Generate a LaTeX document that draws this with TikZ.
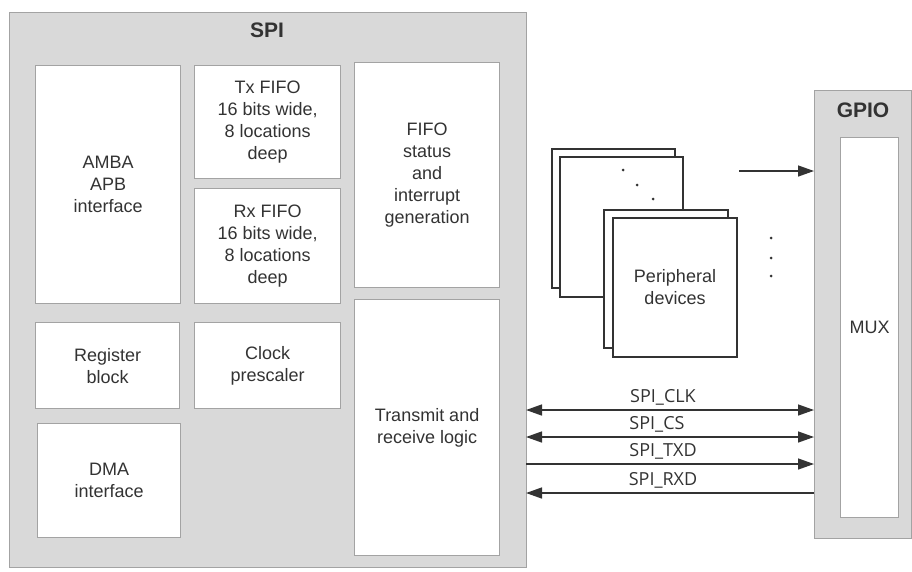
\documentclass[tikz,border=0pt]{standalone}
\usepackage{fontspec}
\setmainfont{Liberation Sans}
\newfontfamily\sigfont{Open Sans}
\usetikzlibrary{arrows.meta}
\definecolor{panelgray}{HTML}{D9D9D9}
\definecolor{edgegray}{HTML}{A3A3A3}
\definecolor{ink}{HTML}{333333}
\begin{document}
\begin{tikzpicture}[x=1pt,y=-1pt,
  panel/.style={draw=edgegray, fill=panelgray, line width=1.2pt, anchor=north west, inner sep=0pt},
  block/.style={draw=edgegray, fill=white, line width=1.2pt, anchor=north west, inner sep=0pt,
    align=center, text=ink, font=\fontsize{18}{22}\selectfont},
  ptitle/.style={text=ink, font=\fontsize{21}{25}\selectfont\bfseries},
  card/.style={draw=ink, fill=white, line width=1.2pt},
  sig/.style={draw=ink, line width=1.4pt},
  tipR/.style={-{Triangle[length=16pt,width=11pt]}},
  tipL/.style={{Triangle[length=16pt,width=11pt]}-},
  tipLR/.style={{Triangle[length=16pt,width=11pt]}-{Triangle[length=16pt,width=11pt]}},
  siglabel/.style={text=ink, font=\sigfont\fontsize{18}{22}\selectfont},
  dot/.style={fill=ink, circle, inner sep=0pt, minimum size=3pt}]
\useasboundingbox (0,0) rectangle (912,571);

% SPI controller
\node[panel, minimum width=517pt, minimum height=555pt] (spi) at (9,12) {};
\node[ptitle] (spititle) at (267,30) {SPI};
\node[block, minimum width=145pt, minimum height=238pt] (amba) at (35,65) {AMBA\\APB\\interface};
\node[block, minimum width=146pt, minimum height=113pt] (txfifo) at (194,65) {Tx FIFO\\16 bits wide,\\8 locations\\deep};
\node[block, minimum width=146pt, minimum height=115pt] (rxfifo) at (194,188) {Rx FIFO\\16 bits wide,\\8 locations\\deep};
\node[block, minimum width=145pt, minimum height=225pt] (status) at (354,62) {FIFO\\status\\and\\interrupt\\generation};
\node[block, minimum width=144pt, minimum height=86pt] (regs) at (35,322) {Register\\block};
\node[block, minimum width=146pt, minimum height=86pt] (clk) at (194,322) {Clock\\prescaler};
\node[block, minimum width=143pt, minimum height=114pt] (dma) at (37,423) {DMA\\interface};
\node[block, minimum width=145pt, minimum height=256pt] (txrx) at (354,299) {Transmit and\\receive logic};

% GPIO with its multiplexer
\node[panel, minimum width=97pt, minimum height=448pt] (gpio) at (814,90) {};
\node[ptitle] (gpiotitle) at (863,110) {GPIO};
\node[block, minimum width=58pt, minimum height=380pt] (mux) at (840,137) {MUX};

% Stacked peripheral devices
\draw[card] (552,149) rectangle (675,288);
\draw[card] (560,157) rectangle (683,297);
\draw[card] (604,210) rectangle (728,348);
\draw[card] (613,218) rectangle (737,357);
\node[text=ink, align=center, font=\fontsize{18}{22}\selectfont] (periph) at (675,287) {Peripheral\\devices};
\node[dot] (d1) at (623,170) {};
\node[dot] (d2) at (637,185) {};
\node[dot] (d3) at (653,199) {};
\node[dot] (v1) at (771,238) {};
\node[dot] (v2) at (771,258) {};
\node[dot] (v3) at (771,276) {};

% Peripheral feed into the GPIO block
\coordinate (feed) at (739,171);
\draw[sig, tipR] (feed) -- (feed -| gpio.west);

% SPI signal lines between the controller and the GPIO block
\coordinate (clkA) at (526,410);
\coordinate (csA) at (526,437);
\coordinate (txdA) at (526,464);
\coordinate (rxdA) at (526,493);
\draw[sig, tipLR] (clkA) -- (clkA -| gpio.west);
\draw[sig, tipLR] (csA) -- (csA -| gpio.west);
\draw[sig, tipR] (txdA) -- (txdA -| gpio.west);
\draw[sig, tipL] (rxdA) -- (rxdA -| gpio.west);
\node[siglabel] (lclk) at (663,397) {SPI\_CLK};
\node[siglabel] (lcs) at (657,424) {SPI\_CS};
\node[siglabel] (ltxd) at (663,451) {SPI\_TXD};
\node[siglabel] (lrxd) at (663,480) {SPI\_RXD};
\end{tikzpicture}
\end{document}
